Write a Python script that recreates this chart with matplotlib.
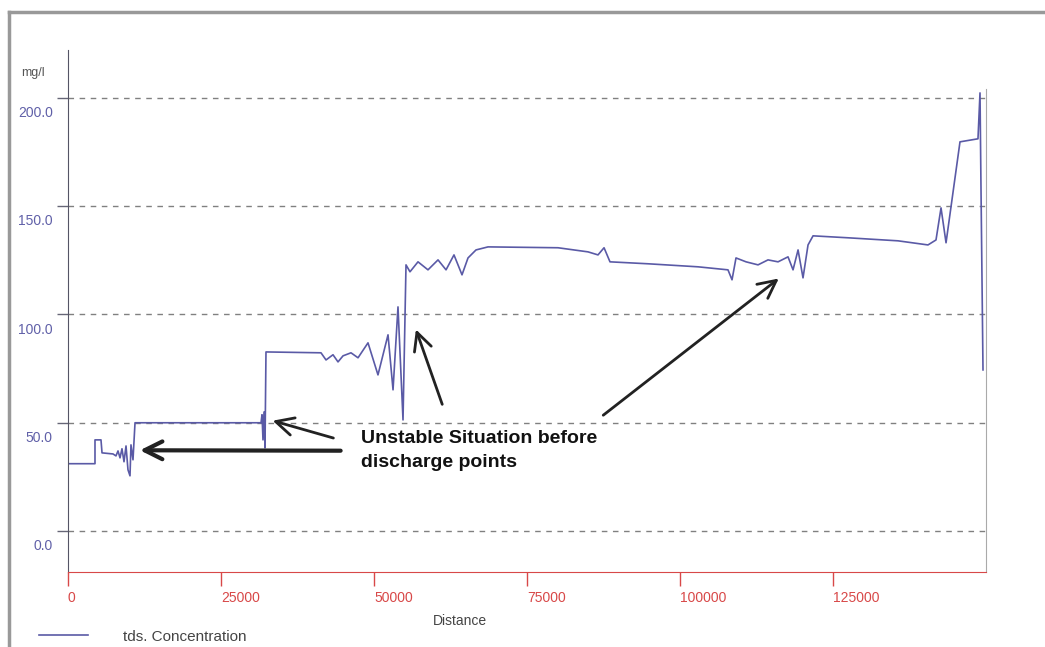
import matplotlib.pyplot as plt
import matplotlib.transforms as mtransforms
from matplotlib.lines import Line2D

# distance (m) and tds concentration (mg/l)
distance = [0, 4410, 4410, 5390, 5560, 7350, 7840, 8170, 8500, 8820, 9150, 9480,
            9800, 10130, 10290, 10620, 10950, 31540, 31700, 31860, 32030, 32190,
            32350, 41340, 42160, 43300, 44120, 44940, 46240, 47390, 49020, 50650,
            52290, 53110, 53920, 54740, 55230, 55880, 57190, 58820, 60460, 61770,
            63070, 64380, 65360, 66670, 68630, 80070, 84970, 86600, 87590, 88560,
            94770, 102940, 107840, 108500, 109150, 110790, 112750, 114380, 116020,
            117650, 118470, 119290, 120100, 120920, 121740, 127450, 135620, 140520,
            141830, 142650, 143470, 145750, 148690, 149020, 149180, 149510]
tds = [31, 31, 42, 42, 36, 35.5, 34.6, 36.9, 33.7, 37.9, 31.9, 39.2,
       28.2, 25.4, 39.7, 32.8, 49.9, 49.9, 53.6, 42, 54.9, 38.3,
       82.6, 82.2, 78.9, 81.3, 78, 80.8, 82.2, 79.9, 86.8, 72,
       90.5, 65.1, 103.4, 51.2, 122.8, 119.6, 124.2, 120.5, 125.1, 120.5,
       127.4, 118.2, 126, 129.7, 131.1, 130.7, 128.8, 127.4, 130.7, 124.2,
       123.3, 121.9, 120.5, 115.9, 126, 124.2, 122.8, 125.1, 124.2,
       126.5, 120.5, 129.7, 116.8, 132, 136.2, 135.3, 133.9, 132,
       134.3, 149.1, 133, 179.6, 181, 202.2, 158.8, 74.3]

x_ticks = [0, 25000, 50000, 75000, 100000, 125000]
y_ticks = [0, 50, 100, 150, 200]
y_labels = ["0.0", "50.0", "100.0", "150.0", "200.0"]

note = "Unstable Situation before\ndischarge points"
# (tail, head) of each arrow in data units
arrows = [((45000, 37), (11300, 37.2)),
          ((43800, 42.5), (33000, 51.2)),
          ((61300, 57.2), (56700, 94.2)),
          ((87100, 52.6), (116500, 117.3))]

plt.rcParams['font.family'] = ['Liberation Sans', 'DejaVu Sans']

line_col = '#5a5aa6'
red = '#d84848'

fig = plt.figure(figsize=(10.45, 6.47), dpi=100)
ax = fig.add_axes([68 / 1045, 1 - 572 / 647, 918 / 1045, 522 / 647])

ax.plot(distance, tds, color=line_col, lw=1.2, label='tds. Concentration')
ax.set_xlim(0, 150000)
ax.set_ylim(-19, 222)

ax.set_yticks(y_ticks)
ax.set_yticklabels(y_labels, color='#6060a8', fontsize=10)
ax.set_xticks(x_ticks)
ax.set_xticklabels([str(t) for t in x_ticks], color=red, fontsize=10, ha='left')
ax.tick_params(axis='y', direction='out', length=8, width=1, color='#666677', pad=3)
ax.tick_params(axis='x', direction='out', length=10, width=1, color=red, pad=4)

# y labels sit a little under their grid lines
off = mtransforms.ScaledTranslation(0, -0.14, fig.dpi_scale_trans)
for lab in ax.get_yticklabels():
    lab.set_transform(lab.get_transform() + off)

ax.yaxis.grid(True, ls=(0, (4, 4)), color='#808080', lw=1)
ax.spines['top'].set_visible(False)
ax.spines['left'].set_color('#555566')
ax.spines['bottom'].set_color(red)
ax.spines['right'].set_color('#aaaaaa')
ax.spines['right'].set_bounds(-19, 204)

ax.set_xlabel('Distance', fontsize=10, color='#444444')
ax.xaxis.set_label_coords((460 - 68) / 918, -0.08)
ax.set_ylabel('mg/l', fontsize=9, color='#555555', rotation=0)
ax.yaxis.set_label_coords(-0.038, 0.945)

ax.text(47800, 46.5, note, fontsize=14, fontweight='bold', va='top',
        linespacing=1.5, color='#111111')
for i, (tail, head) in enumerate(arrows):
    ax.annotate('', xy=head, xytext=tail,
                arrowprops=dict(arrowstyle='->', color='#222222',
                                lw=3 if i == 0 else 2, mutation_scale=32))

fig.legend(loc='center left', bbox_to_anchor=(0.03, 0.016), frameon=False,
           fontsize=11, handlelength=3.2, handletextpad=2.3, borderpad=0,
           labelcolor='#444444')

# outer frame of the screenshot
fig.add_artist(Line2D([9 / 1045, 1], [1 - 12 / 647] * 2, color='#999999', lw=2.5,
                      transform=fig.transFigure))
fig.add_artist(Line2D([9 / 1045] * 2, [0, 1 - 12 / 647], color='#999999', lw=2.5,
                      transform=fig.transFigure))

fig.savefig('out.png', dpi=100)
